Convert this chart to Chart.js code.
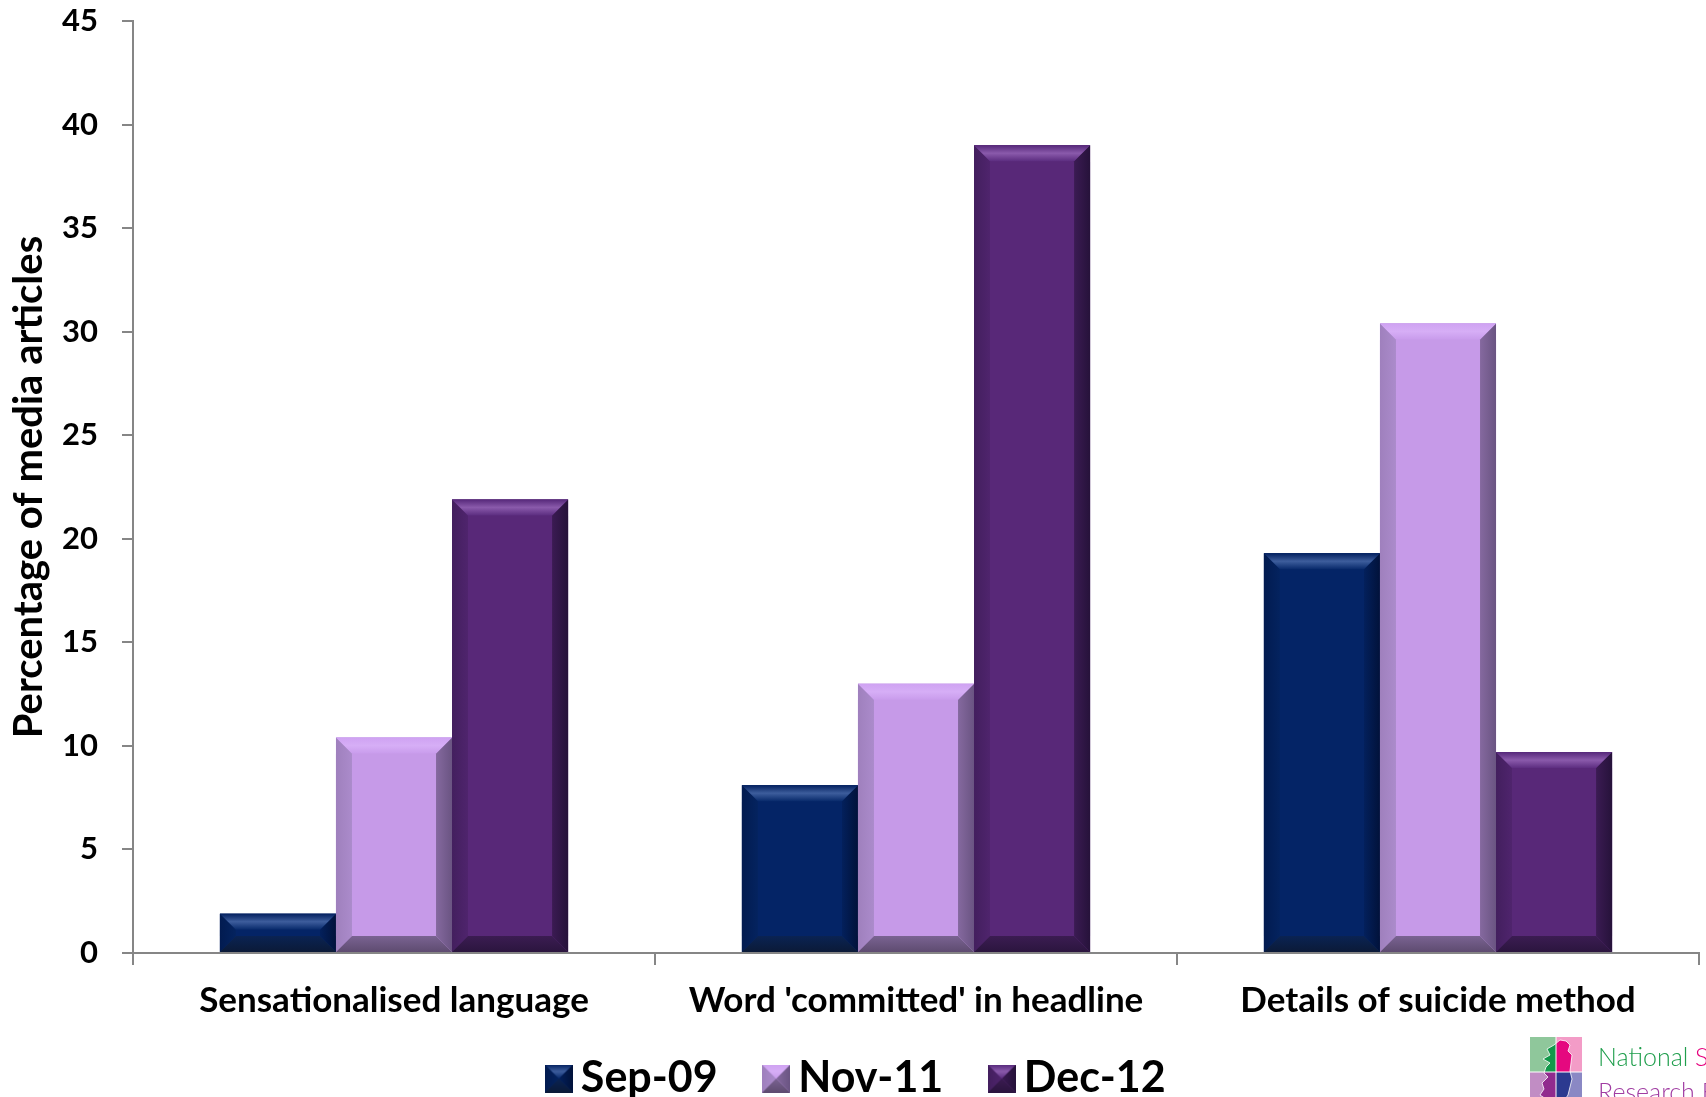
<!DOCTYPE html>
<html>
<head>
<meta charset="utf-8">
<script src="https://cdn.jsdelivr.net/npm/chart.js@4.4.1/dist/chart.umd.min.js"></script>
<style>
  html, body { margin: 0; padding: 0; background: #ffffff; overflow: hidden; width: 1706px; height: 1097px; }
  #wrap { position: relative; width: 1706px; height: 1097px; overflow: hidden; }
  #chart { position: absolute; left: 0; top: 0; }
  #logo { position: absolute; left: 1530px; top: 1037px; }
  .brand { position: absolute; left: 1598px; font-family: Lato, "Open Sans", sans-serif; font-weight: 300;
           font-size: 25px; line-height: 1; white-space: nowrap; }
</style>
</head>
<body>
<div id="wrap">
  <canvas id="chart" width="1706" height="1097"></canvas>
  <svg id="logo" width="52" height="70" viewBox="0 0 52 70">
    <defs>
      <clipPath id="qTL"><rect x="0" y="0" width="26" height="35"/></clipPath>
      <clipPath id="qTR"><rect x="26" y="0" width="26" height="35"/></clipPath>
      <clipPath id="qBL"><rect x="0" y="35" width="26" height="35"/></clipPath>
      <clipPath id="qBR"><rect x="26" y="35" width="26" height="35"/></clipPath>
      <path id="island" d="M30 3 L36 4 L40 8 L38 14 L42 18 L41 26 L40 34 L42 42 L40 50 L38 58 L34 64 L26 68 L18 70 L12 68 L16 62 L10 58 L14 52 L12 46 L18 40 L14 36 L16 30 L20 26 L13 22 L20 18 L17 12 L24 8 Z"/>
    </defs>
    <rect x="0" y="0" width="26" height="35" fill="#8fc79b"/>
    <rect x="26" y="0" width="26" height="35" fill="#f39cc7"/>
    <rect x="0" y="35" width="26" height="35" fill="#c18dc4"/>
    <rect x="26" y="35" width="26" height="35" fill="#8a88c4"/>
    <use href="#island" fill="#12984a" stroke="#ffffff" stroke-width="0.8" clip-path="url(#qTL)"/>
    <use href="#island" fill="#e5087f" stroke="#ffffff" stroke-width="0.8" clip-path="url(#qTR)"/>
    <use href="#island" fill="#912b8e" stroke="#ffffff" stroke-width="0.8" clip-path="url(#qBL)"/>
    <use href="#island" fill="#2b3a90" stroke="#ffffff" stroke-width="0.8" clip-path="url(#qBR)"/>
    <line x1="26" y1="0" x2="26" y2="70" stroke="#ffffff" stroke-width="1"/>
    <line x1="0" y1="35" x2="52" y2="35" stroke="#ffffff" stroke-width="1"/>
  </svg>
  <div class="brand" style="top:1044px;color:#1f9e4c">National <span style="color:#e6007e">Suicide</span></div>
  <div class="brand" style="top:1079px;color:#a03ca2">Research Foundation</div>
</div>
<script>
// Share of media articles showing each reporting issue, per survey period
const categories = ['Sensationalised language', "Word 'committed' in headline", 'Details of suicide method'];
const seriesNames = ['Sep-09', 'Nov-11', 'Dec-12'];
const sep09 = [1.9, 8.1, 19.3];
const nov11 = [10.4, 13.0, 30.4];
const dec12 = [21.9, 39.0, 9.7];
const yMin = 0, yMax = 45, yStep = 5;
const yTitle = 'Percentage of media articles';

// Bevelled fill colours for each series
const palettes = [
  { base: '#042466', top: ['#03205f', '#3d5d9c', '#082a6b'], left: ['#021b50', '#04235f'],
    right: ['#03205c', '#01123a'], bottom: ['#0a2353', '#0b1a37'] },
  { base: '#c69ae8', top: ['#cfa2f2', '#d6aef6', '#c99cec'], left: ['#9f80bd', '#ab8bcb'],
    right: ['#85699f', '#6a5482'], bottom: ['#7a6392', '#5e4b70'] },
  { base: '#582878', top: ['#56287a', '#8a5aab', '#5c2d80'], left: ['#431f5e', '#4f246d'],
    right: ['#3b1b53', '#26123a'], bottom: ['#3b1c52', '#2b153e'] }
];

const FONT = 'Lato, "Open Sans", sans-serif';

function poly(ctx, pts, fill) {
  ctx.beginPath();
  ctx.moveTo(pts[0][0], pts[0][1]);
  for (let i = 1; i < pts.length; i++) ctx.lineTo(pts[i][0], pts[i][1]);
  ctx.closePath();
  ctx.fillStyle = fill;
  ctx.fill();
}

function grad(ctx, x0, y0, x1, y1, stops) {
  const g = ctx.createLinearGradient(x0, y0, x1, y1);
  stops.forEach((c, i) => g.addColorStop(stops.length === 1 ? 0 : i / (stops.length - 1), c));
  return g;
}

function drawBevel(ctx, L, T, R, B, p, size) {
  const d = Math.max(0, Math.min(size, (B - T) / 2, (R - L) / 2));
  ctx.save();
  ctx.fillStyle = p.base;
  ctx.fillRect(L, T, R - L, B - T);
  poly(ctx, [[L, T], [L + d, T + d], [L + d, B - d], [L, B]], grad(ctx, L, 0, L + d, 0, p.left));
  poly(ctx, [[R, T], [R, B], [R - d, B - d], [R - d, T + d]], grad(ctx, R - d, 0, R, 0, p.right));
  poly(ctx, [[L, T], [R, T], [R - d, T + d], [L + d, T + d]], grad(ctx, 0, T, 0, T + d, p.top));
  poly(ctx, [[L, B], [L + d, B - d], [R - d, B - d], [R, B]], grad(ctx, 0, B - d, 0, B, p.bottom));
  ctx.restore();
}

// Small pyramid swatches for the legend
const markers = palettes.map(p => {
  const c = document.createElement('canvas');
  c.width = 28; c.height = 28;
  drawBevel(c.getContext('2d'), 0, 0, 28, 28, p, 14);
  return c;
});

const bevelBars = {
  id: 'bevelBars',
  afterDatasetsDraw(chart) {
    const ctx = chart.ctx;
    chart.data.datasets.forEach((ds, di) => {
      const meta = chart.getDatasetMeta(di);
      if (meta.hidden) return;
      meta.data.forEach(el => {
        const { x, y, base, width } = el.getProps(['x', 'y', 'base', 'width'], true);
        const L = x - width / 2, R = x + width / 2;
        const T = Math.min(y, base), B = Math.max(y, base);
        drawBevel(ctx, L, T, R, B, palettes[di], 16);
      });
    });
  }
};

const chartData = {
  labels: categories,
  datasets: [sep09, nov11, dec12].map((vals, i) => ({
    label: seriesNames[i],
    data: vals,
    backgroundColor: palettes[i].base,
    borderWidth: 0,
    categoryPercentage: 0.667,
    barPercentage: 1.0
  }))
};

new Chart(document.getElementById('chart'), {
  type: 'bar',
  data: chartData,
  plugins: [bevelBars],
  options: {
    responsive: false,
    animation: false,
    layout: { padding: { top: 21, right: 7, left: 25, bottom: -13 } },
    plugins: {
      tooltip: { enabled: false },
      legend: {
        position: 'bottom',
        align: 'center',
        labels: {
          usePointStyle: true,
          pointStyleWidth: 1,
          padding: 58,
          color: '#000000',
          font: { family: FONT, size: 43, weight: 'bold' },
          generateLabels: (chart) => chart.data.datasets.map((ds, i) => ({
            text: ds.label,
            pointStyle: markers[i],
            fillStyle: ds.backgroundColor,
            strokeStyle: 'rgba(0,0,0,0)',
            lineWidth: 0,
            hidden: false,
            datasetIndex: i
          }))
        }
      }
    },
    scales: {
      x: {
        offset: true,
        grid: { offset: true, drawOnChartArea: false, drawTicks: true, tickLength: 12, color: '#868686', lineWidth: 2 },
        border: { display: true, color: '#868686', width: 2 },
        ticks: { color: '#000000', padding: 15, maxRotation: 0, autoSkip: false,
                 font: { family: FONT, size: 35, weight: 'bold' } },
        afterFit: (scale) => {
          scale.height = 46;
          // category labels may run below the axis box into the legend band
          scale._computeLabelArea = () => undefined;
        }
      },
      y: {
        min: yMin,
        max: yMax,
        grid: { drawOnChartArea: false, drawTicks: true, tickLength: 11, color: '#868686', lineWidth: 2 },
        border: { display: true, color: '#868686', width: 2 },
        ticks: { stepSize: yStep, color: '#000000', padding: 24,
                 font: { family: FONT, size: 31, weight: 'bold' } },
        title: { display: true, text: yTitle, color: '#000000', padding: { top: -20, bottom: 0 },
                 font: { family: FONT, size: 40, weight: 'bold' } },
        afterFit: (scale) => {
          scale.width = 108;
          // the top and bottom tick labels sit inside the layout margins
          scale.paddingTop = 0;
          scale.paddingBottom = 0;
        }
      }
    }
  }
});
</script>
</body>
</html>
